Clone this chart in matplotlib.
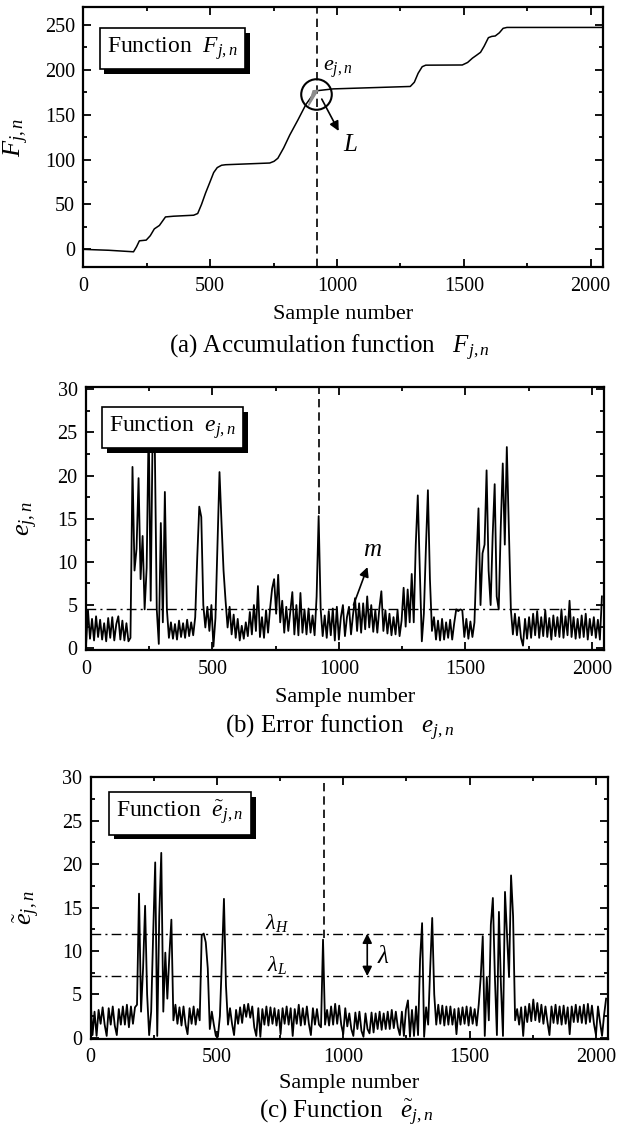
import numpy as np
import matplotlib
matplotlib.use("Agg")
import matplotlib.pyplot as plt
from matplotlib.ticker import MultipleLocator
import matplotlib.patheffects as pe

plt.rcParams['font.family'] = ['Liberation Serif', 'DejaVu Serif']
plt.rcParams['mathtext.fontset'] = 'custom'
plt.rcParams['mathtext.rm'] = 'Liberation Serif'
plt.rcParams['mathtext.it'] = 'Liberation Serif:italic'

# --- data ---
# accumulation function F (knots of the curve)
f_x = [0, 100, 198, 210, 221, 248, 264, 280, 300, 324, 356, 435, 451, 466, 482,
       498, 514, 528, 545, 561, 735, 752, 767, 790, 814, 846, 878, 905, 925,
       985, 1289, 1305, 1320, 1336, 1350, 1494, 1515, 1534, 1550, 1566, 1580,
       1597, 1610, 1624, 1640, 1655, 1670, 2048]
f_y = [0, -1, -2.7, 3.0, 9.5, 10.3, 15.2, 22.8, 26.6, 36.1, 36.9, 38.0, 39.9,
       50.0, 62.7, 74.0, 85.5, 91.0, 93.6, 94.2, 96.1, 98.0, 101.4, 113.0, 127.3,
       144.0, 161.5, 172.0, 176.7, 178.6, 181.3, 186.0, 196.0, 203.3, 205.0,
       205.2, 208.0, 212.8, 216.0, 219.3, 226.0, 235.6, 237.0, 237.5, 241.0,
       246.0, 247.0, 247.0]

# sample index of the two noisy traces (every 8th sample)
sample_idx = np.arange(0, 2048, 8)

# error function e_{j,n}
e_vals = [
    0.2, 4.4, 1.1, 3.4, 0.9, 3.7, 1.3, 3.3, 1.0, 2.9, 0.8, 3.5, 1.2, 3.6, 0.9, 2.8,
    3.7, 1.0, 3.2, 0.9, 2.9, 0.8, 1.2, 21.0, 9.0, 11.5, 19.7, 8.0, 13.0, 4.5, 9.3, 26.0,
    5.5, 26.0, 24.0, 4.5, 0.5, 14.5, 3.0, 18.1, 4.5, 1.2, 3.0, 1.1, 2.8, 1.0, 3.2, 1.3,
    2.9, 1.2, 3.3, 1.4, 3.0, 1.5, 3.6, 10.5, 16.4, 15.2, 5.0, 2.4, 4.8, 2.0, 5.0, 0.2,
    3.5, 12.0, 20.4, 14.5, 9.0, 5.5, 2.4, 4.8, 1.6, 3.9, 1.2, 3.4, 0.9, 2.6, 1.1, 3.0,
    1.4, 4.2, 1.6, 5.0, 2.0, 7.2, 1.3, 3.6, 1.2, 4.4, 1.8, 4.6, 6.9, 8.0, 4.0, 8.5,
    3.0, 5.5, 1.8, 4.8, 2.0, 4.3, 6.5, 1.6, 5.0, 1.5, 6.4, 1.8, 4.5, 1.6, 4.6, 1.8,
    3.8, 1.5, 6.0, 15.3, 4.5, 1.4, 3.8, 1.2, 4.3, 1.5, 4.6, 0.9, 4.8, 1.0, 3.6, 5.0,
    1.4, 3.6, 4.8, 1.6, 3.9, 5.8, 2.0, 5.2, 1.8, 5.2, 2.2, 6.0, 2.4, 5.0, 1.9, 4.4,
    1.8, 4.6, 6.6, 2.0, 4.4, 1.7, 4.0, 1.5, 3.6, 1.6, 4.4, 1.4, 3.2, 7.0, 2.5, 6.8,
    3.0, 8.6, 3.0, 12.0, 17.7, 9.0, 0.8, 4.0, 11.5, 18.3, 8.0, 2.0, 3.6, 1.0, 3.2, 0.9,
    3.4, 1.0, 3.0, 1.2, 3.3, 1.0, 2.9, 4.5, 4.3, 4.5, 4.4, 1.3, 3.4, 1.1, 3.1, 1.3,
    3.0, 10.0, 16.2, 5.0, 11.0, 12.0, 20.6, 9.0, 5.0, 13.0, 19.0, 6.0, 4.5, 14.0, 21.4, 12.0,
    23.3, 14.0, 4.5, 1.6, 4.0, 1.5, 3.6, 1.2, 0.3, 3.4, 1.1, 3.6, 1.2, 4.0, 1.5, 4.3,
    1.2, 3.6, 1.4, 4.4, 1.3, 3.5, 1.0, 3.8, 1.4, 3.6, 1.3, 4.5, 1.2, 3.7, 1.5, 5.5,
    1.3, 3.6, 1.1, 3.4, 1.2, 3.8, 1.3, 4.0, 1.0, 3.4, 1.5, 3.6, 1.2, 3.3, 1.0, 6.0,
]

# filtered function e~_{j,n}
et_vals = [
    4.5, 0.3, 3.0, 0.2, 3.2, 1.6, 3.5, 1.5, 0.2, 3.4, 1.5, 3.6, 1.4, 0.3, 3.3, 1.5,
    3.6, 1.5, 3.8, 1.2, 3.6, 1.6, 3.5, 3.8, 16.6, 3.0, 8.0, 15.2, 5.0, 0.3, 3.0, 12.0,
    20.2, 0.2, 14.0, 21.3, 3.0, 9.8, 4.5, 9.5, 13.6, 2.0, 3.8, 1.6, 3.5, 1.4, 3.6, 1.5,
    0.4, 3.4, 1.6, 3.6, 1.5, 3.3, 2.0, 11.8, 12.0, 11.0, 8.0, 1.0, 3.0, 1.5, 0.2, 0.1,
    2.5, 9.0, 16.0, 6.0, 1.5, 3.4, 1.6, 0.3, 3.2, 1.6, 3.5, 1.7, 3.8, 2.4, 3.9, 2.3,
    3.6, 1.2, 0.2, 3.4, 0.1, 3.3, 1.5, 3.6, 1.4, 3.5, 1.6, 3.4, 1.4, 3.2, 0.4, 3.4,
    1.6, 3.6, 1.5, 3.4, 0.2, 3.3, 1.6, 3.8, 1.4, 3.4, 1.5, 3.6, 1.6, 0.3, 3.4, 1.5,
    3.3, 1.5, 1.2, 11.3, 1.5, 3.2, 1.4, 3.6, 1.5, 3.9, 1.6, 3.7, 1.5, 0.4, 3.4, 1.3,
    2.8, 1.0, 0.2, 2.9, 1.0, 3.0, 0.8, 0.1, 2.8, 1.0, 0.5, 2.9, 0.6, 2.8, 1.0, 3.0,
    0.9, 2.8, 1.0, 3.0, 1.0, 3.2, 1.1, 3.0, 1.2, 0.3, 3.0, 0.2, 3.2, 4.3, 0.1, 3.2,
    0.2, 3.6, 0.3, 9.0, 13.2, 0.1, 3.5, 1.5, 8.0, 13.8, 5.0, 1.5, 3.8, 1.6, 3.7, 1.4,
    3.6, 1.5, 3.6, 1.5, 3.3, 0.4, 3.4, 1.5, 3.5, 1.6, 3.6, 1.4, 3.5, 1.6, 3.3, 1.4,
    3.8, 7.0, 11.7, 0.2, 7.0, 2.0, 13.0, 16.1, 7.0, 0.3, 14.5, 6.0, 0.2, 16.8, 12.0, 7.0,
    18.7, 14.0, 2.0, 3.3, 1.5, 3.5, 0.2, 3.6, 1.8, 3.9, 1.9, 4.4, 2.0, 4.0, 1.8, 3.8,
    1.6, 3.6, 1.8, 0.3, 3.6, 1.7, 3.8, 1.6, 3.6, 1.5, 3.7, 1.6, 3.5, 0.4, 3.6, 1.8,
    3.8, 1.8, 3.6, 1.7, 3.8, 1.6, 3.9, 1.8, 3.7, 1.6, 0.3, 3.6, 1.8, 0.2, 2.6, 4.5,
]

mark_n = 922          # sample marked by the dashed line
m_level = 4.5         # mean level in (b)
lambda_h = 12.0
lambda_l = 7.1


def style_axes(ax, ylim, ymajor, yminor):
    ax.set_xlim(0, 2048)
    ax.set_ylim(*ylim)
    ax.xaxis.set_major_locator(MultipleLocator(500))
    ax.xaxis.set_minor_locator(MultipleLocator(250))
    ax.yaxis.set_major_locator(MultipleLocator(ymajor))
    ax.yaxis.set_minor_locator(MultipleLocator(yminor))
    ax.tick_params(which='both', direction='in', top=True, right=True, width=1.3)
    ax.tick_params(which='major', length=6, labelsize=14.5)
    ax.tick_params(which='minor', length=3)
    ax.tick_params(axis='x', pad=7)
    ax.tick_params(axis='y', pad=6)
    for sp in ax.spines.values():
        sp.set_linewidth(1.6)


def label_box(ax, txt, x, y):
    t = ax.text(x, y, txt, transform=ax.transAxes, fontsize=17, va='center',
                ha='left', zorder=10,
                bbox=dict(boxstyle='square,pad=0.3', fc='white', ec='black', lw=1.2))
    t.get_bbox_patch().set_path_effects([
        pe.SimplePatchShadow(offset=(3.5, -3.5), shadow_rgbFace='black', alpha=1.0),
        pe.Normal()])


def side_labels(ax, ylab, ylab_x, xlab_y):
    ax.set_ylabel(ylab, fontsize=19)
    ax.yaxis.set_label_coords(ylab_x, 0.5)
    ax.set_xlabel('Sample number', fontsize=16)
    ax.xaxis.set_label_coords(0.5, xlab_y)
    ax.xaxis.label.set_va('center')


fig = plt.figure(figsize=(6.32, 11.28), dpi=100)
ax_a = fig.add_axes([0.1318, 0.763, 0.822, 0.231])
ax_b = fig.add_axes([0.136, 0.4238, 0.8196, 0.2327])
ax_c = fig.add_axes([0.1432, 0.0793, 0.819, 0.2323])

# (a) accumulation function
ax_a.plot(f_x, f_y, color='black', lw=1.1)
ax_a.axvline(mark_n, color='black', lw=1.2, ls=(0, (5, 3)))
ax_a.fill([888, 925, 906], [160, 177, 176.5], color='0.55', zorder=3)
ax_a.plot([919], [173], marker='o', ms=22, mfc='none', mec='black', mew=1.5)
ax_a.annotate('', xy=(1012, 129), xytext=(935, 170),
              arrowprops=dict(arrowstyle='-|>', color='black', lw=1.2,
                              mutation_scale=14))
ax_a.text(1052, 116, '$L$', fontsize=18, ha='center', va='center')
ax_a.text(1004, 201, '$e_{j,n}$', fontsize=16, ha='center', va='center')
style_axes(ax_a, (-20, 270), 50, 25)
label_box(ax_a, 'Function  $F_{j,n}$', 0.045, 0.84)
side_labels(ax_a, '$F_{j,n}$', -0.10, -0.182)

# (b) error function
ax_b.plot(sample_idx, e_vals, color='black', lw=1.3)
ax_b.axhline(m_level, color='black', lw=1.0, ls=(0, (7, 3, 1.5, 3)))
ax_b.plot([mark_n, mark_n], [15.5, 30.2], color='black', lw=1.2, ls=(0, (5, 3)))
ax_b.annotate('', xy=(1117, 9.7), xytext=(1054, 4.7),
              arrowprops=dict(arrowstyle='-|>', color='black', lw=1.2,
                              mutation_scale=14))
ax_b.text(1133, 11.4, '$m$', fontsize=18, ha='center', va='center')
style_axes(ax_b, (-0.2, 30.2), 5, 2.5)
label_box(ax_b, 'Function  $e_{j,n}$', 0.045, 0.846)
side_labels(ax_b, '$e_{j,n}$', -0.089, -0.183)

# (c) filtered function
ax_c.plot(sample_idx, et_vals, color='black', lw=1.3)
ax_c.axhline(lambda_h, color='black', lw=1.0, ls=(0, (7, 3, 1.5, 3)))
ax_c.axhline(lambda_l, color='black', lw=1.0, ls=(0, (7, 3, 1.5, 3)))
ax_c.plot([mark_n, mark_n], [11.5, 30.2], color='black', lw=1.2, ls=(0, (5, 3)))
ax_c.annotate('', xy=(1095, lambda_l), xytext=(1095, lambda_h),
              arrowprops=dict(arrowstyle='<|-|>', color='black', lw=1.2,
                              mutation_scale=14, shrinkA=0, shrinkB=0))
ax_c.text(1160, 9.3, r'$\lambda$', fontsize=18, ha='center', va='center')
ax_c.text(740, 13.2, r'$\lambda_H$', fontsize=16, ha='center', va='center')
ax_c.text(740, 8.4, r'$\lambda_L$', fontsize=16, ha='center', va='center')
style_axes(ax_c, (-0.1, 30.1), 5, 2.5)
label_box(ax_c, r'Function  $\tilde{e}_{j,n}$', 0.05, 0.859)
side_labels(ax_c, r'$\tilde{e}_{j,n}$', -0.094, -0.170)

# captions
fig.text(330 / 632, 1 - 348 / 1128, '(a) Accumulation function   $F_{j,n}$',
         fontsize=18, ha='center', va='center')
fig.text(340 / 632, 1 - 728 / 1128, '(b) Error function   $e_{j,n}$',
         fontsize=18, ha='center', va='center')
fig.text(346 / 632, 1 - 1113 / 1128, r'(c) Function   $\tilde{e}_{j,n}$',
         fontsize=18, ha='center', va='center')

fig.savefig('out.png', dpi=100)
